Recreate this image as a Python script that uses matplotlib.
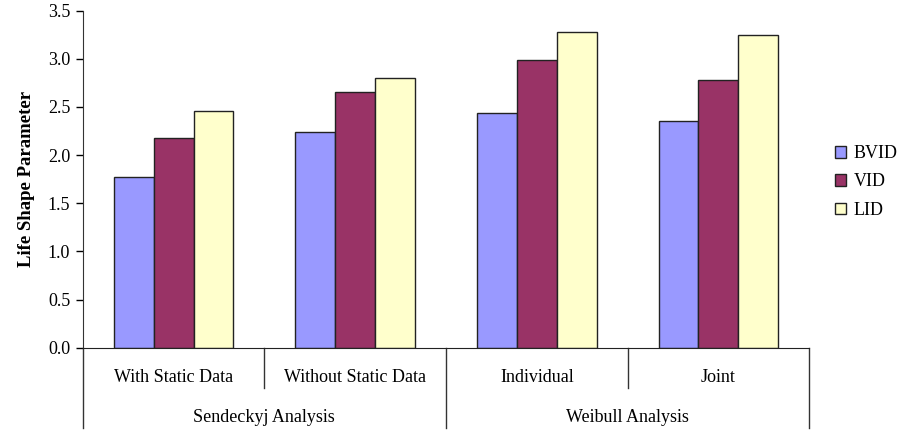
import matplotlib
matplotlib.use("Agg")
import matplotlib.pyplot as plt
import matplotlib.transforms as mtransforms
from matplotlib.patches import Patch
import numpy as np

# data
categories = ["With Static Data", "Without Static Data", "Individual", "Joint"]
groups = ["Sendeckyj Analysis", "Weibull Analysis"]
series = ["BVID", "VID", "LID"]
bvid = [1.77, 2.24, 2.44, 2.35]
vid = [2.18, 2.66, 2.99, 2.78]
lid = [2.46, 2.80, 3.28, 3.25]
yticks = [0.0, 0.5, 1.0, 1.5, 2.0, 2.5, 3.0, 3.5]

colors = ["#9999FF", "#993366", "#FFFFCC"]

plt.rcParams["font.family"] = ["Liberation Serif", "DejaVu Serif"]
plt.rcParams["font.size"] = 13

W, H = 902, 430
fig = plt.figure(figsize=(W / 100, H / 100), dpi=100)
left, right, top, bottom = 82.7, 809.3, 10.7, 347.7
ax = fig.add_axes([left / W, 1 - bottom / H, (right - left) / W, (bottom - top) / H])

x = np.arange(len(categories)) + 0.5
bw = 0.22
for i, (vals, name) in enumerate(zip([bvid, vid, lid], series)):
    ax.bar(x + (i - 1) * bw, vals, bw, color=colors[i], edgecolor="#222222",
           linewidth=1.0, label=name, zorder=2)

ax.set_xlim(0, len(categories))
ax.set_ylim(0, 3.5)
ax.set_yticks(yticks)
ax.set_yticklabels([f"{v:.1f}" for v in yticks])
ax.tick_params(axis="y", length=5, width=1, direction="out", pad=4)
ax.set_xticks([])
for s in ["top", "right"]:
    ax.spines[s].set_visible(False)
ax.spines["left"].set_color("#333333")
ax.spines["bottom"].set_color("#222222")

ax.set_ylabel("Life Shape Parameter", fontweight="bold", fontsize=13.5, labelpad=9)

# multi-level category axis
trans = mtransforms.blended_transform_factory(ax.transData, ax.transAxes)
h_px = bottom - top
y_cat = -(388 - bottom) / h_px
y_grp = -(428 - bottom) / h_px
for xv in [1, 3]:
    ax.plot([xv, xv], [0, y_cat], color="#333333", lw=1, transform=trans, clip_on=False)
for xv in [0, 2, 4]:
    ax.plot([xv, xv], [0, y_grp], color="#333333", lw=1, transform=trans, clip_on=False)

for xv, lab in zip(x, categories):
    ax.text(xv, -(378 - bottom) / h_px, lab, transform=trans, ha="center", va="center")
for k, lab in enumerate(groups):
    ax.text(2 * k + 1, -(417 - bottom) / h_px, lab, transform=trans, ha="center", va="center")

handles = [Patch(facecolor=c, edgecolor="#222222", linewidth=1) for c in colors]
fig.legend(handles, series, loc="center left", bbox_to_anchor=(826 / W, 1 - 182 / H),
           frameon=False, borderpad=0, handlelength=0.6, handleheight=0.6,
           handletextpad=0.45, labelspacing=0.62)

fig.savefig("out.png", dpi=100)
